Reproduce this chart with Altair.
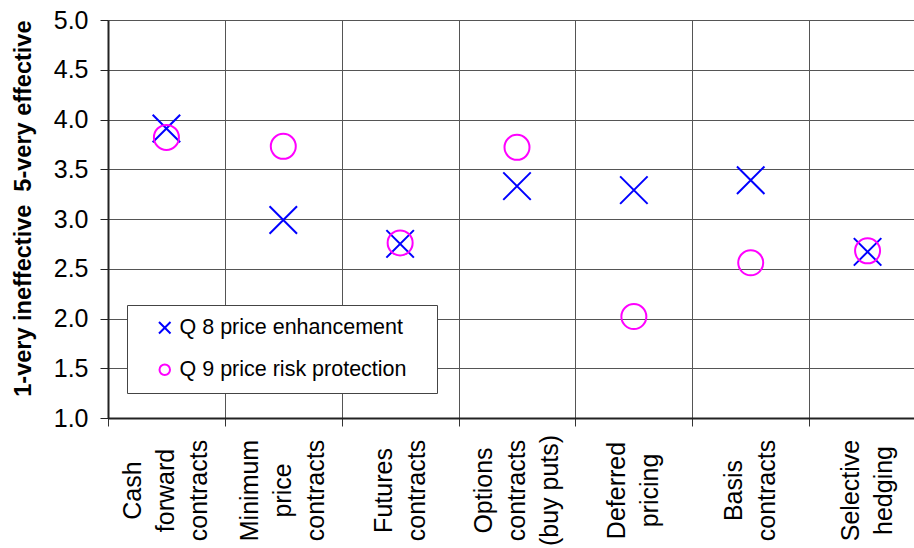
import altair as alt
import pandas as pd

categories = [
    "Cash\nforward\ncontracts",
    "Minimum\nprice\ncontracts",
    "Futures\ncontracts",
    "Options\ncontracts\n(buy puts)",
    "Deferred\npricing",
    "Basis\ncontracts",
    "Selective\nhedging",
]
series = ["Q 8 price enhancement", "Q 9 price risk protection"]
q8_values = [3.91, 2.99, 2.75, 3.33, 3.29, 3.39, 2.67]
q9_values = [3.82, 3.73, 2.76, 3.72, 2.02, 2.56, 2.68]
y_ticks = [1.0, 1.5, 2.0, 2.5, 3.0, 3.5, 4.0, 4.5, 5.0]
y_title = "1-very ineffective\u00a0\u00a05-very effective"

rows = []
for c, v in zip(categories, q8_values):
    rows.append({"category": c, "series": series[0], "value": v})
for c, v in zip(categories, q9_values):
    rows.append({"category": c, "series": series[1], "value": v})
df = pd.DataFrame(rows)

x_path = "M-1.1,-1.1L1.1,1.1M-1.1,1.1L1.1,-1.1"

leg = alt.Legend(
    title=None,
    orient="none",
    legendX=19,
    legendY=285,
    fillColor="white",
    strokeColor="#444444",
    padding=12,
    rowPadding=19,
    symbolSize=110,
    symbolStrokeWidth=2,
    symbolOffset=15,
    labelOffset=4,
    labelFontSize=21.5,
    labelFont="Liberation Sans",
    labelColor="black",
    labelLimit=400,
    labelExpr="datum.label + '\u00a0\u00a0\u00a0\u200b'",
)

chart = alt.Chart(df).mark_point(filled=False, strokeWidth=2, size=625, opacity=1).encode(
    x=alt.X(
        "category:N",
        sort=categories,
        scale=alt.Scale(range=[0, 818], paddingInner=0, paddingOuter=0),
        axis=alt.Axis(
            title=None,
            labelAngle=270,
            labelAlign="center",
            labelBaseline="middle",
            labelPadding=64,
            labelOffset={
                "condition": {"test": "length(split(datum.label, '\\n')) == 3", "value": -34},
                "value": -17,
            },
            labelFontSize=25,
            labelFont="Liberation Sans",
            labelColor="black",
            labelLineHeight=33,
            labelExpr="split(datum.label, '\\n')",
            labelOverlap=False,
            labelLimit=300,
            tickBand="extent",
            tickSize=8,
            tickColor="#333333",
            grid=True,
            gridColor="#555555",
            gridWidth=1,
            domainColor="#222222",
            domainWidth=2,
        ),
    ),
    y=alt.Y(
        "value:Q",
        scale=alt.Scale(domain=[1, 5], nice=False, zero=False),
        axis=alt.Axis(
            title=y_title,
            titleFont="Liberation Sans",
            titleFontSize=23.5,
            titleFontWeight="bold",
            titleColor="black",
            titleAngle=270,
            titleAlign="right",
            titleBaseline="middle",
            titleX=-85,
            titleY=0,
            values=y_ticks,
            format=".1f",
            labelFont="Liberation Sans",
            labelFontSize=25,
            labelColor="black",
            labelPadding=12,
            tickSize=8,
            tickColor="#222222",
            grid=True,
            gridColor="#555555",
            gridWidth=1,
            domainColor="#222222",
            domainWidth=2,
        ),
    ),
    color=alt.Color(
        "series:N",
        scale=alt.Scale(domain=series, range=["#0000FF", "#FF00FF"]),
        legend=leg,
    ),
    shape=alt.Shape(
        "series:N",
        scale=alt.Scale(domain=series, range=[x_path, "circle"]),
        legend=leg,
    ),
).properties(
    width=806,
    height=398,
    autosize=alt.AutoSizeParams(type="none"),
    padding={"left": 108, "top": 20, "right": 0, "bottom": 130},
).configure_view(stroke="transparent")

chart.save("out.html", embed_options={"renderer": "svg", "actions": False})
